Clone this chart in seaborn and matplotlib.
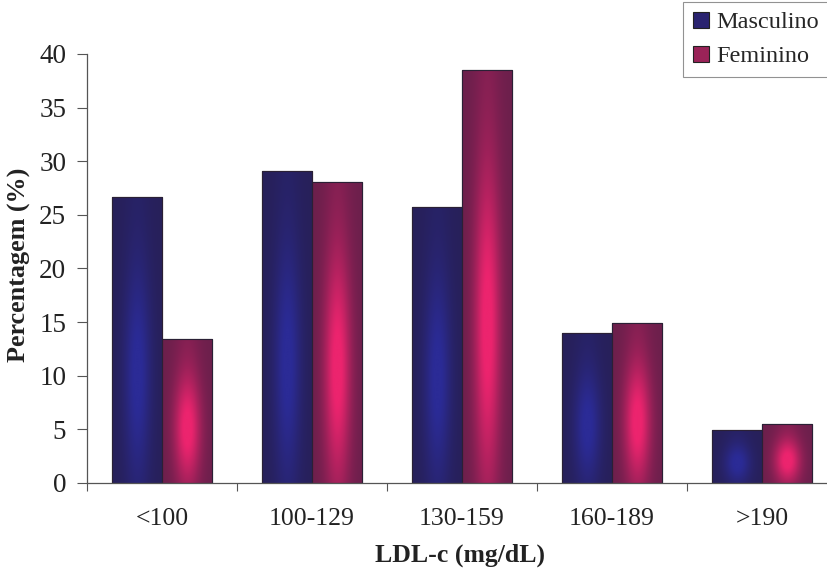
import numpy as np
import pandas as pd
import matplotlib
matplotlib.use("Agg")
import matplotlib.pyplot as plt
import seaborn as sns
from matplotlib.colors import to_rgb
from matplotlib.patches import Patch

categories = ["<100", "100-129", "130-159", "160-189", ">190"]
masculino = [26.7, 29.1, 25.7, 14.0, 4.9]
feminino = [13.4, 28.1, 38.5, 14.9, 5.5]
series_names = ["Masculino", "Feminino"]
y_ticks = [0, 5, 10, 15, 20, 25, 30, 35, 40]

df = pd.DataFrame({
    "LDL": categories * 2,
    "Sexo": [series_names[0]] * len(categories) + [series_names[1]] * len(categories),
    "Pct": masculino + feminino,
})

sns.set_theme(style="white")
plt.rcParams["font.family"] = ["Liberation Serif", "DejaVu Serif"]

W, H = 828, 577
fig = plt.figure(figsize=(W / 100, H / 100), dpi=100)
ax = fig.add_axes([87 / W, 94 / H, 750 / W, 429 / H])

base_cols = {"Masculino": "#27205a", "Feminino": "#6c1f4c"}
bright_cols = {"Masculino": "#2b2b96", "Feminino": "#ec246e"}
legend_cols = {"Masculino": "#2a2370", "Feminino": "#9a2358"}

sns.barplot(data=df, x="LDL", y="Pct", hue="Sexo", hue_order=series_names,
            order=categories, palette=base_cols, width=0.67, gap=0,
            edgecolor="#222", linewidth=0.8, legend=False, ax=ax)

# gradient fill clipped to each bar
nx, ny = 60, 160
u = np.linspace(0, 1, nx)
v = np.linspace(0, 1, ny)
U, V = np.meshgrid(u, v)
hx = np.exp(-((U - 0.5) / 0.26) ** 2)
vy = np.exp(-((V - 0.38) / 0.36) ** 2)
inten = np.clip(hx * (0.15 + 0.95 * vy), 0, 1)

n = len(categories)
for i, patch in enumerate(ax.patches[: 2 * n]):
    name = series_names[i // n]
    d = np.array(to_rgb(base_cols[name]))
    b = np.array(to_rgb(bright_cols[name]))
    img = d[None, None, :] + (b - d)[None, None, :] * inten[:, :, None]
    x0, y0 = patch.get_x(), patch.get_y()
    w, h = patch.get_width(), patch.get_height()
    im = ax.imshow(img, extent=[x0, x0 + w, y0, y0 + h], origin="lower",
                   aspect="auto", interpolation="bilinear", zorder=patch.get_zorder() + 0.1)
    im.set_clip_path(patch)
    outline = plt.Rectangle((x0, y0), w, h, fill=False, edgecolor="#2a2035",
                            linewidth=0.8, zorder=patch.get_zorder() + 0.2)
    ax.add_patch(outline)

ax.set_xlim(-0.5, n - 0.5)
ax.set_ylim(0, 40)
ax.set_yticks(y_ticks)
ax.set_yticklabels([str(t) for t in y_ticks])
ax.set_xticks(range(n))
ax.set_xticklabels(categories)
ax.set_xticks(np.arange(-0.5, n, 1.0), minor=True)
ax.tick_params(axis="x", which="major", length=0, pad=18, labelsize=18.5, colors="#222")
ax.tick_params(axis="x", which="minor", length=6, width=0.8, color="#555", direction="out", bottom=True)
ax.tick_params(axis="y", which="major", length=7, width=0.8, color="#555", direction="out",
               left=True, pad=8, labelsize=19.5, labelcolor="#222")

for s in ["top", "right"]:
    ax.spines[s].set_visible(False)
for s in ["left", "bottom"]:
    ax.spines[s].set_color("#555")
    ax.spines[s].set_linewidth(0.9)

ax.set_xlabel("LDL-c (mg/dL)", fontsize=18.5, fontweight="bold", color="#222")
ax.set_ylabel("Percentagem (%)", fontsize=18.8, fontweight="bold", color="#222")
ax.xaxis.set_label_coords(373 / 750, -61 / 429)
ax.yaxis.set_label_coords(-56 / 750, (483 - 265) / 429)

handles = [Patch(facecolor=legend_cols[s], edgecolor="#222", linewidth=0.8) for s in series_names]
leg = fig.legend(handles, series_names, loc="upper left",
                 bbox_to_anchor=(683 / W, 1 - 2 / H), bbox_transform=fig.transFigure,
                 fontsize=17.5, frameon=True, fancybox=False, edgecolor="#777",
                 handlelength=0.65, handleheight=0.65, handletextpad=0.3,
                 labelspacing=0.5, borderpad=0.4, borderaxespad=0)
leg.get_frame().set_linewidth(0.8)

fig.savefig("out.png", dpi=100)
